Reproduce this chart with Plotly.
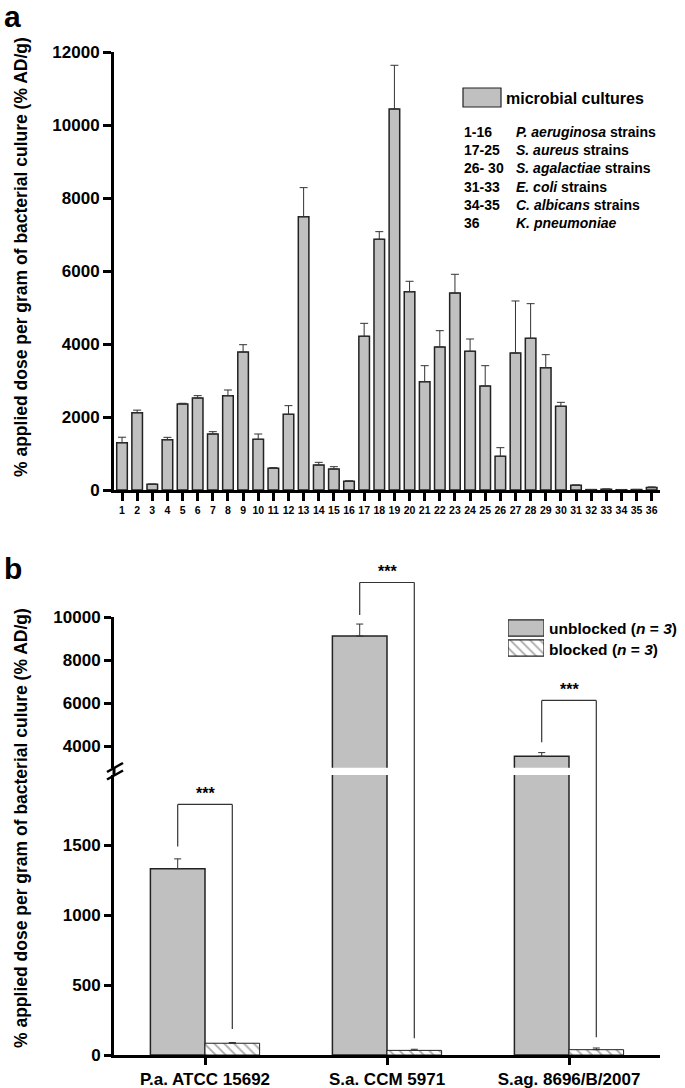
import plotly.graph_objs as go

W, H = 685, 1088
FONT = "Liberation Sans"
GREY = "#c0c0c0"

# ---- panel a data ----
strains = list(range(1, 37))
uptake = [1296, 2118, 155, 1379, 2356, 2521, 1534, 2585, 3781, 1388, 594, 2073,
          7489, 685, 575, 238, 4210, 6868, 10440, 5434, 2968, 3918, 5398, 3800,
          2850, 923, 3754, 4155, 3351, 2292, 128, 10, 20, 8, 12, 70]
uptake_err = [150, 70, 10, 64, 20, 64, 64, 155, 200, 146, 20, 238,
              795, 73, 64, 15, 356, 210, 1196, 284, 438, 447, 512, 337,
              556, 237, 1425, 950, 357, 110, 10, 5, 8, 5, 5, 15]

legend_ranges = ["1-16", "17-25", "26- 30", "31-33", "34-35", "36"]
legend_species = ["P. aeruginosa", "S. aureus", "S. agalactiae", "E. coli", "C. albicans", "K. pneumoniae"]
legend_suffix = [" strains", " strains", " strains", " strains", " strains", ""]

# ---- panel b data ----
cultures = ["P.a. ATCC 15692", "S.a. CCM 5971", "S.ag. 8696/B/2007"]
unblocked = [1331, 9126, 3533]
unblocked_err = [70, 560, 170]
blocked = [84, 33, 38]
blocked_err = [5, 8, 12]
bracket_top = [1790, 11620, 6130]
bracket_left = [1490, 10110, 4190]
bracket_right = [186, 119, 126]

# broken axis of panel b
low_range = [0, 2000]
high_range = [3000, 10000]


def px_x(p):
    return p / W


def px_y(p):
    return 1 - p / H


xdom = [px_x(114), px_x(660)]
a_dom = [px_y(490), px_y(52)]
low_dom = [px_y(1055), px_y(775)]
high_dom = [px_y(767.7), px_y(617.3)]


def b_paper(v):
    # value on broken axis -> paper y
    if v <= low_range[1]:
        r, d = low_range, low_dom
    else:
        r, d = high_range, high_dom
    return d[0] + (v - r[0]) / (r[1] - r[0]) * (d[1] - d[0])


fig = go.Figure()

fig.add_trace(go.Bar(
    x=strains, y=uptake, width=0.7, xaxis="x", yaxis="y",
    marker=dict(color=GREY, line=dict(color="#222", width=1.5)),
    error_y=dict(type="data", array=uptake_err, arrayminus=[0] * len(uptake_err),
                 symmetric=False, color="#333", thickness=1, width=4),
))

hatch = dict(shape="\\", fgcolor="#aaaaaa", bgcolor="white", size=7, solidity=0.25)
for xa, ya in [("x2", "y2"), ("x3", "y3")]:
    fig.add_trace(go.Bar(
        x=cultures, y=unblocked, width=0.3, offset=-0.3, xaxis=xa, yaxis=ya,
        marker=dict(color=GREY, line=dict(color="#222", width=1.5)),
        error_y=dict(type="data", array=unblocked_err, arrayminus=[0] * 3,
                     symmetric=False, color="#333", thickness=1, width=3.5),
    ))
    fig.add_trace(go.Bar(
        x=cultures, y=blocked, width=0.3, offset=0, xaxis=xa, yaxis=ya,
        marker=dict(color="white", pattern=hatch, line=dict(color="#222", width=1)),
        error_y=dict(type="data", array=blocked_err, arrayminus=[0] * 3,
                     symmetric=False, color="#333", thickness=1, width=3.5),
    ))

# legend swatches of panel b (tiny hidden subplot so the hatch can be shown)
fig.add_trace(go.Bar(
    x=[1], y=["unblocked"], orientation="h", width=0.82, xaxis="x4", yaxis="y4",
    marker=dict(color=GREY, line=dict(color="#222", width=1.2)),
))
fig.add_trace(go.Bar(
    x=[1], y=["blocked"], orientation="h", width=0.82, xaxis="x4", yaxis="y4",
    marker=dict(color="white", pattern=hatch, line=dict(color="#222", width=1.2)),
))

axis_common = dict(showline=True, linewidth=3, linecolor="black", ticks="outside",
                   tickwidth=3, tickcolor="black", showgrid=False, zeroline=False,
                   tickformat="d",
                   tickfont=dict(family=FONT, size=17, color="black", weight="bold"))

fig.update_layout(
    width=W, height=H, margin=dict(l=0, r=0, t=0, b=0),
    template="none", paper_bgcolor="white", plot_bgcolor="white",
    showlegend=False, bargap=0.3,
    xaxis=dict(axis_common, domain=xdom, anchor="y", range=[0.47, 36.55],
               tickvals=strains, ticklen=8,
               tickfont=dict(family=FONT, size=10.5, color="black", weight="bold")),
    yaxis=dict(axis_common, domain=a_dom, anchor="x", range=[0, 12000], dtick=2000, ticklen=8),
    xaxis2=dict(axis_common, domain=xdom, anchor="y2", range=[-0.5, 2.5], ticklen=7),
    yaxis2=dict(axis_common, domain=low_dom, anchor="x2", range=low_range,
                tickvals=[0, 500, 1000, 1500], ticklen=7),
    xaxis3=dict(domain=xdom, anchor="y3", matches="x2", visible=False),
    yaxis3=dict(axis_common, domain=high_dom, anchor="x3", range=high_range,
                tickvals=[4000, 6000, 8000, 10000], ticklen=7),
    xaxis4=dict(domain=[px_x(508), px_x(544)], anchor="y4", range=[0, 1], visible=False),
    yaxis4=dict(domain=[px_y(658), px_y(618)], anchor="x4", visible=False,
                categoryorder="array", categoryarray=["blocked", "unblocked"]),
)

shapes = []
line_b = dict(color="#333", width=1.2)
for i, c in enumerate(cultures):
    xl, xr = i - 0.15, i + 0.15
    yt = b_paper(bracket_top[i])
    shapes.append(dict(type="line", xref="x2", yref="paper", x0=xl, x1=xl,
                       y0=b_paper(bracket_left[i]), y1=yt, line=line_b))
    shapes.append(dict(type="line", xref="x2", yref="paper", x0=xl, x1=xr,
                       y0=yt, y1=yt, line=line_b))
    shapes.append(dict(type="line", xref="x2", yref="paper", x0=xr, x1=xr,
                       y0=b_paper(bracket_right[i]), y1=yt, line=line_b))

# axis line through the break and the break marks
shapes.append(dict(type="line", xref="paper", yref="paper", x0=xdom[0], x1=xdom[0],
                   y0=low_dom[1], y1=high_dom[0], line=dict(color="black", width=3)))
for cy in [767.5, 775]:
    shapes.append(dict(type="line", xref="paper", yref="paper",
                       x0=px_x(107), y0=px_y(cy + 4.5), x1=px_x(123), y1=px_y(cy - 4.5),
                       line=dict(color="black", width=2.5)))

# legend box of panel a
shapes.append(dict(type="rect", xref="paper", yref="paper",
                   x0=px_x(463), x1=px_x(501), y0=px_y(107), y1=px_y(88),
                   fillcolor=GREY, line=dict(color="#222", width=1.2)))
fig.update_layout(shapes=shapes)

ann = []
ann.append(dict(text="<b>a</b>", x=px_x(2), y=px_y(-2), xanchor="left", yanchor="top",
                font=dict(size=30)))
ann.append(dict(text="<b>b</b>", x=px_x(2), y=px_y(550), xanchor="left", yanchor="top",
                font=dict(size=30)))
ytitle = "<b>% applied dose per gram of bacterial culure (% AD/g)</b>"
ann.append(dict(text=ytitle, x=px_x(21), y=px_y(257), textangle=-90, font=dict(size=17.5)))
ann.append(dict(text=ytitle, x=px_x(21), y=px_y(828), textangle=-90, font=dict(size=17.5)))

ann.append(dict(text="<b>microbial cultures</b>", x=px_x(504), y=px_y(98),
                xanchor="left", font=dict(size=16)))
ann.append(dict(text="<br>".join("<b>%s</b>" % r for r in legend_ranges),
                x=px_x(462), y=px_y(178), xanchor="left", align="left", font=dict(size=14)))
ann.append(dict(text="<br>".join("<b><i>%s</i>%s</b>" % (s, suf)
                                 for s, suf in zip(legend_species, legend_suffix)),
                x=px_x(514), y=px_y(178), xanchor="left", align="left", font=dict(size=14)))

ann.append(dict(text="<b>unblocked (<i>n</i> = <i>3</i>)</b>", x=px_x(547), y=px_y(628),
                xanchor="left", font=dict(size=15.5)))
ann.append(dict(text="<b>blocked (<i>n</i> = <i>3</i>)</b>", x=px_x(547), y=px_y(649),
                xanchor="left", font=dict(size=15.5)))

for i, c in enumerate(cultures):
    ann.append(dict(text="<b>***</b>", xref="x2", yref="paper", x=i,
                    y=b_paper(bracket_top[i]), yanchor="bottom", font=dict(size=16)))

for a in ann:
    a.setdefault("xref", "paper")
    a.setdefault("yref", "paper")
    a.setdefault("xanchor", "center")
    a.setdefault("yanchor", "middle")
    a["showarrow"] = False
    a["font"] = dict(family=FONT, color="black", **a["font"])
fig.update_layout(annotations=ann)

fig.write_html("out.html", config={"displayModeBar": False},
               post_script="document.body.style.margin='0px';")
